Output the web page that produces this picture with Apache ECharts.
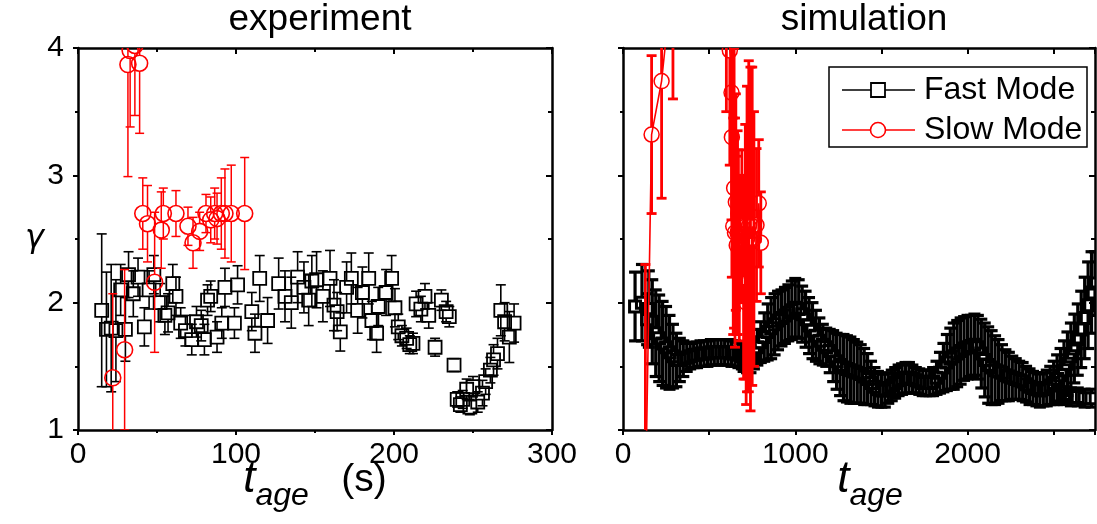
<!DOCTYPE html>
<html><head><meta charset="utf-8">
<script src="https://cdn.jsdelivr.net/npm/echarts/dist/echarts.min.js"></script>
<style>html,body{margin:0;padding:0;background:#fff}#c{width:1097px;height:524px}</style>
</head><body><div id="c"></div><script>
// ---- data: [t_age, gamma, error] ----
var expFast = [
 [15,1.94,0.6],[18,1.79,0.45],[21,1.8,0.5],[24,1.78,0.4],[27,2.1,0.2],[30,1.79,0.25],
 [32,2.22,0.18],[35,2.07,0.18],[38,2.2,0.15],[42,1.81,0.15],[45,2.1,0.15],[48,2.22,0.15],
 [52,2.0,0.15],[55,1.9,0.15],[57,1.92,0.15],[60,2.15,0.15],[62,2.05,0.15],[65,1.84,0.12],
 [68,1.78,0.12],[72,1.71,0.12],[75,1.85,0.12],[78,1.82,0.12],[80,1.71,0.12],[82,2.02,0.12],
 [84,2.05,0.12],[88,1.73,0.12],[91,1.84,0.12],[93,2.12,0.15],[99,1.84,0.12],[101,2.14,0.15],
 [110,1.93,0.15],[112,1.76,0.15],[115,2.19,0.18],[120,1.86,0.18],[127,2.15,0.2],[131,2.05,0.2],
 [135,2.0,0.2],[139,2.2,0.2],[143,2.12,0.2],[146,2.02,0.2],[148,2.17,0.2],[151,2.18,0.22],
 [155,2.05,0.2],[159.5,2.19,0.22],[162,1.98,0.2],[164,1.93,0.15],[166,1.77,0.15],[170,2.12,0.2],
 [173,2.19,0.2],[177,1.94,0.18],[180,2.08,0.2],[184,2.19,0.2],[186,1.86,0.15],[189,1.76,0.15],
 [190,1.97,0.15],[195,2.08,0.18],[198.5,2.19,0.18],[200.6,1.96,0.15],[202.7,1.81,0.1],[205,1.74,0.08],
 [208,1.72,0.08],[210,1.67,0.07],[212,1.68,0.08],[214,1.99,0.1],[217,1.95,0.1],[219.6,2.05,0.1],
 [222,1.9,0.1],[226,1.65,0.07],[230,2.02,0.08],[233,1.93,0.08],[235,1.89,0.08],[238,1.51,0.05],
 [240,1.24,0.06],[242,1.2,0.06],[243.5,1.24,0.07],[246,1.32,0.08],[248,1.18,0.06],[250,1.34,0.08],
 [253,1.22,0.08],[256,1.29,0.1],[258,1.38,0.1],[261,1.47,0.1],[263,1.55,0.12],[265.5,1.6,0.12],
 [267.6,1.94,0.2],[270,1.85,0.15],[273,1.73,0.2],[276,1.84,0.15]
];
var expSlow = [
 [22,1.41,0.66],[29.5,1.63,0.63],[31.6,3.87,0.88],[33,3.98,0.6],[36,4.02,0.55],[39,3.88,0.55],
 [41,2.70,0.28],[44,2.62,0.3],[48.5,2.16,0.55],[52.7,2.57,0.3],[54,2.70,0.2],[62,2.70,0.18],
 [69.6,2.6,0.15],[72.8,2.47,0.2],[77,2.56,0.15],[81,2.70,0.15],[84,2.65,0.18],[86.5,2.70,0.2],
 [88,2.66,0.2],[90.7,2.70,0.28],[93,2.7,0.35],[97,2.70,0.38],[105.5,2.70,0.44]
];
var simFast = [
 [70,1.97,0.27],[110,2.0,0.3],[140,1.87,0.2],
 [150,1.95,0.3],[170,1.85,0.33],[190,1.76,0.34],[210,1.72,0.34],[230,1.68,0.33],[250,1.65,0.32],
 [270,1.61,0.29],[290,1.58,0.25],[310,1.55,0.21],[330,1.55,0.17],[350,1.56,0.14],[370,1.57,0.11],
 [390,1.58,0.1],[410,1.59,0.1],[430,1.59,0.1],[450,1.6,0.1],[470,1.6,0.1],[490,1.6,0.1],
 [510,1.61,0.1],[530,1.61,0.1],[550,1.61,0.1],[570,1.61,0.1],[590,1.61,0.1],[610,1.61,0.1],
 [630,1.6,0.1],[650,1.6,0.1],[670,1.59,0.1],[690,1.58,0.1],[700,1.56,0.1],[720,1.54,0.09],
 [740,1.55,0.1],[760,1.6,0.12],[780,1.65,0.14],[800,1.69,0.16],[820,1.73,0.19],[840,1.77,0.22],
 [860,1.80,0.24],[880,1.83,0.24],[900,1.86,0.23],[920,1.88,0.22],[940,1.90,0.22],[960,1.92,0.22],
 [980,1.94,0.23],[1000,1.96,0.23],[1020,1.95,0.23],[1040,1.91,0.22],[1060,1.87,0.22],[1080,1.82,0.22],
 [1100,1.78,0.22],[1120,1.74,0.2],[1140,1.70,0.18],[1160,1.67,0.16],[1180,1.65,0.15],[1200,1.62,0.17],
 [1220,1.58,0.2],[1240,1.54,0.22],[1260,1.51,0.24],[1280,1.49,0.26],[1300,1.48,0.26],[1320,1.47,0.26],
 [1340,1.46,0.25],[1360,1.45,0.24],[1380,1.44,0.23],[1400,1.42,0.22],[1420,1.40,0.2],[1440,1.37,0.17],
 [1460,1.34,0.15],[1480,1.32,0.14],[1500,1.31,0.13],[1520,1.31,0.13],[1540,1.33,0.12],[1560,1.35,0.12],
 [1580,1.37,0.12],[1600,1.39,0.12],[1620,1.40,0.12],[1640,1.41,0.12],[1660,1.41,0.12],[1680,1.40,0.11],
 [1700,1.39,0.1],[1720,1.38,0.1],[1740,1.37,0.1],[1760,1.37,0.1],[1780,1.37,0.1],[1800,1.38,0.11],
 [1820,1.41,0.13],[1840,1.45,0.16],[1860,1.49,0.19],[1880,1.53,0.22],[1900,1.56,0.24],[1920,1.58,0.26],
 [1940,1.60,0.26],[1960,1.62,0.26],[1980,1.64,0.25],[2000,1.65,0.25],[2020,1.66,0.24],[2040,1.67,0.24],
 [2060,1.65,0.25],[2080,1.60,0.27],[2100,1.55,0.29],[2120,1.51,0.3],[2140,1.49,0.29],[2160,1.47,0.27],
 [2180,1.46,0.25],[2200,1.45,0.22],[2220,1.43,0.2],[2240,1.42,0.19],[2260,1.41,0.17],[2280,1.40,0.16],
 [2300,1.39,0.15],[2320,1.38,0.15],[2340,1.36,0.14],[2360,1.34,0.14],[2380,1.33,0.13],[2400,1.32,0.13],
 [2420,1.31,0.13],[2440,1.32,0.13],[2460,1.33,0.14],[2480,1.35,0.15],[2500,1.37,0.17],[2520,1.40,0.19],
 [2540,1.43,0.21],[2560,1.47,0.23],[2580,1.52,0.25],[2600,1.58,0.26],[2620,1.64,0.27],[2640,1.71,0.28],
 [2660,1.79,0.3],[2680,1.88,0.32],[2700,1.98,0.34],[2720,2.08,0.32],[2740,2.15,0.25],
 [2520,1.27,0.07],[2560,1.27,0.07],[2600,1.26,0.07],[2640,1.26,0.07],[2680,1.25,0.07],[2720,1.25,0.07]
];
var simSlow = [
 [130,0.4,1.9],[166,3.32,0.62],[224,3.74,0.92],[290,4.6,1.0],[600,4.5,1.0],[620,3.98,0.9],
 [630,3.65,1.0],[632,3.30,1.1],[640,2.6,0.85],[645,2.9,1.1],[650,2.55,0.9],[655,2.79,0.85],
 [660,2.45,0.7],[665,2.55,0.8],[670,2.7,0.5],[675,2.3,0.6],[680,2.5,0.5],[690,2.6,0.6],
 [700,2.2,0.8],[710,2.4,1.0],[715,2.0,0.8],[720,2.5,1.2],[730,2.6,1.3],[740,2.5,1.35],
 [750,2.6,1.25],[760,2.5,1.0],[775,2.61,0.6],[788,2.78,0.5],[800,2.47,0.4]
];
var expXTicks = [0, 300, 100];
var simXTicks = [0, 2740, 500];
var yTicks = [1, 4, 1];
var panelTitles = ['experiment', 'simulation'];
var legendNames = ['Fast Mode', 'Slow Mode'];

var FONT = 'Liberation Sans';
var BLACK = '#000', RED = '#ff0000';

function errRender(shape, size, color, capHalf, barW, symW) {
  return function (params, api) {
    var t = api.value(0), g = api.value(1), e = api.value(2);
    var c = api.coord([t, g]);
    var hi = api.coord([t, g + e]);
    var lo = api.coord([t, g - e]);
    var h = size / 2;
    var ls = {stroke: color, lineWidth: barW, fill: null};
    var kids = [];
    if (hi[1] < c[1] - h) kids.push({type:'line', shape:{x1:c[0],y1:c[1]-h,x2:hi[0],y2:hi[1]}, style: ls});
    if (lo[1] > c[1] + h) kids.push({type:'line', shape:{x1:c[0],y1:c[1]+h,x2:lo[0],y2:lo[1]}, style: ls});
    kids.push({type:'line', shape:{x1:hi[0]-capHalf,y1:hi[1],x2:hi[0]+capHalf,y2:hi[1]}, style: ls});
    kids.push({type:'line', shape:{x1:lo[0]-capHalf,y1:lo[1],x2:lo[0]+capHalf,y2:lo[1]}, style: ls});
    var ms = {stroke: color, lineWidth: symW, fill: 'none'};
    if (shape === 'rect') kids.push({type:'rect', shape:{x:c[0]-h,y:c[1]-h,width:size,height:size}, style: ms});
    else kids.push({type:'circle', shape:{cx:c[0],cy:c[1],r:h}, style: ms});
    return {type:'group', children: kids};
  };
}

function xAx(grid, ticks, pos, labels, step) {
  return {
    type:'value', gridIndex:grid, position:pos, min:ticks[0], max:ticks[1], interval:ticks[2],
    axisLine:{show:true, onZero:false, lineStyle:{color:BLACK, width:2.5}},
    axisTick:{show:true, inside: pos==='top', length: pos==='top'?6:5, lineStyle:{color:BLACK, width:2}},
    minorTick:{show: grid===0, splitNumber:2, length: pos==='top'?4:3, lineStyle:{color:BLACK, width:2}},
    splitLine:{show:false},
    axisLabel:{show:labels, margin:10, color:BLACK, fontSize:30, fontFamily:FONT,
      formatter: function(v){ return (v % step === 0) ? String(v) : ''; }}
  };
}
function yAx(grid, pos, labels) {
  return {
    type:'value', gridIndex:grid, position:pos, min:yTicks[0], max:yTicks[1], interval:yTicks[2],
    axisLine:{show:true, onZero:false, lineStyle:{color:BLACK, width:2.5}},
    axisTick:{show:true, inside: pos==='right', length: pos==='right'?6:5, lineStyle:{color:BLACK, width:2}},
    minorTick:{show:true, splitNumber:2, length: pos==='right'?4:3, lineStyle:{color:BLACK, width:2}},
    splitLine:{show:false},
    axisLabel:{show:labels, margin:14, color:BLACK, fontSize:30, fontFamily:FONT}
  };
}

var xAxes = [
  xAx(0, expXTicks, 'bottom', true, 100),
  xAx(0, expXTicks, 'top', false, 100),
  xAx(1, simXTicks, 'bottom', true, 1000),
  xAx(1, simXTicks, 'top', false, 1000)
];
var nameRich = {
  p:{width:22, fontSize:10},
  t:{fontSize:44, fontStyle:'italic', fontFamily:FONT, color:BLACK, verticalAlign:'top', lineHeight:44},
  a:{fontSize:32, fontStyle:'italic', fontFamily:FONT, color:BLACK, padding:[32,0,0,0], lineHeight:32},
  s:{fontSize:39, fontFamily:FONT, color:BLACK, padding:[0,0,0,0], lineHeight:40}
};
[0, 2].forEach(function (i) {
  xAxes[i].name = i === 0 ? '{t|t}{a|age}{s|   (s)}' : '{p|}{t|t}{a|age}';
  xAxes[i].nameLocation = 'middle';
  xAxes[i].nameGap = 28;
  xAxes[i].nameMoveOverlap = false;
  xAxes[i].nameTextStyle = {rich: nameRich, verticalAlign:'top'};
});

var yAxes = [yAx(0,'left',true), yAx(0,'right',false), yAx(1,'left',false), yAx(1,'right',false)];
yAxes[0].name = 'γ';
yAxes[0].nameLocation = 'middle';
yAxes[0].nameRotate = 0;
yAxes[0].nameGap = 34;
yAxes[0].nameMoveOverlap = false;
yAxes[0].nameTextStyle = {fontSize:32, fontStyle:'italic', fontFamily:'DejaVu Sans', color:BLACK};

var option = {
  backgroundColor:'#fff',
  animation:false,
  title: [
    {text:panelTitles[0], left:315, top:-4, textAlign:'center', textStyle:{fontSize:37, fontWeight:'normal', fontFamily:FONT, color:BLACK}},
    {text:panelTitles[1], left:859, top:-4, textAlign:'center', textStyle:{fontSize:37, fontWeight:'normal', fontFamily:FONT, color:BLACK}}
  ],
  grid: [
    {left:78, right:545, top:48, bottom:94, containLabel:false, outerBoundsMode:'none'},
    {left:623, right:2, top:48, bottom:94, containLabel:false, outerBoundsMode:'none'}
  ],
  xAxis: xAxes,
  yAxis: yAxes,
  series: [
    {type:'custom', name:legendNames[0], xAxisIndex:0, yAxisIndex:0, clip:true, data:expFast, renderItem: errRender('rect',13,BLACK,5,1.6,1.8), z:2},
    {type:'custom', name:legendNames[1], xAxisIndex:0, yAxisIndex:0, clip:true, data:expSlow, renderItem: errRender('circle',16,RED,4.5,1.5,1.6), z:3},
    {type:'custom', name:legendNames[0], xAxisIndex:2, yAxisIndex:2, clip:true, data:simFast, renderItem: errRender('rect',11,BLACK,6,3.2,3.0), z:2},
    {type:'line', xAxisIndex:2, yAxisIndex:2, clip:true, data:simSlow.map(function(d){return [d[0],d[1]];}), showSymbol:false, symbol:'none', lineStyle:{color:RED, width:1.6}, z:3},
    {type:'custom', name:legendNames[1], xAxisIndex:2, yAxisIndex:2, clip:true, data:simSlow, renderItem: errRender('circle',15,RED,5,2.8,1.5), z:4}
  ],
  graphic: [
    {type:'rect', z:100, shape:{x:829,y:67,width:258,height:80}, style:{fill:'#fff', stroke:BLACK, lineWidth:1.5}},
    {type:'line', z:101, shape:{x1:842,y1:90,x2:915,y2:90}, style:{stroke:BLACK, lineWidth:1.5}},
    {type:'rect', z:102, shape:{x:871,y:83,width:14,height:14}, style:{fill:'#fff', stroke:BLACK, lineWidth:1.8}},
    {type:'text', z:102, x:924, y:90, style:{text:legendNames[0], fontSize:32, fontFamily:FONT, fill:BLACK, verticalAlign:'middle', textAlign:'left'}},
    {type:'line', z:101, shape:{x1:842,y1:130,x2:915,y2:130}, style:{stroke:RED, lineWidth:1.5}},
    {type:'circle', z:102, shape:{cx:878,cy:130,r:7.5}, style:{fill:'#fff', stroke:RED, lineWidth:1.6}},
    {type:'text', z:102, x:924, y:130, style:{text:legendNames[1], fontSize:32, fontFamily:FONT, fill:BLACK, verticalAlign:'middle', textAlign:'left'}}
  ]
};
var chart = echarts.init(document.getElementById('c'), null, {renderer:'canvas'});
chart.setOption(option);
</script></body></html>
